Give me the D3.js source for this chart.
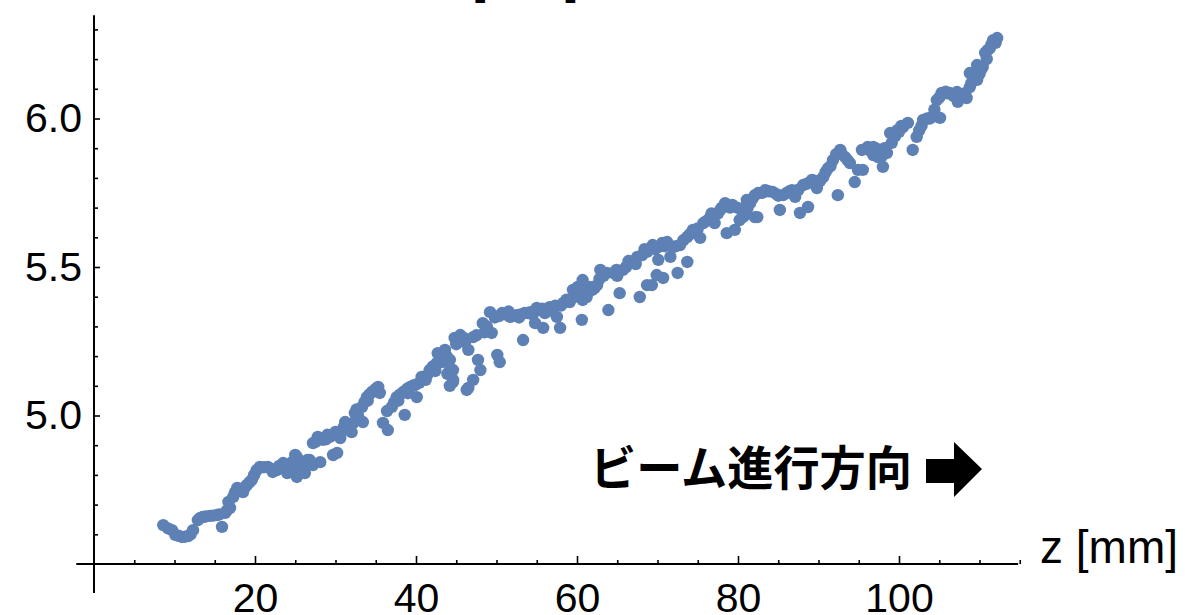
<!DOCTYPE html>
<html>
<head>
<meta charset="utf-8">
<script src="https://cdn.jsdelivr.net/npm/d3@7"></script>
<style>
  body { margin: 0; background: #fff; }
  svg { display: block; }
</style>
</head>
<body>
<div id="chart"></div>
<script>
// Beam size along z as [z (mm), size (mm)]
var beamPoints = [
    // start of the beam line, up to ~28 mm
    [8.6,4.631],[9.2,4.620],[9.7,4.614],[10.1,4.598],[10.5,4.595],[10.9,4.591],[11.3,4.592],[11.7,4.594],
    [12.0,4.600],[12.3,4.614],[12.9,4.648],[13.2,4.655],[13.5,4.658],[13.9,4.660],[14.4,4.662],[14.8,4.663],
    [15.3,4.665],[15.6,4.667],[15.9,4.625],[16.3,4.672],[16.5,4.680],[16.9,4.689],[16.7,4.709],[17.3,4.726],
    [17.5,4.740],[17.8,4.756],[18.1,4.750],[18.5,4.742],[18.8,4.760],[19.0,4.766],[19.3,4.775],[19.6,4.783],
    [19.9,4.800],[20.2,4.816],[20.6,4.827],[21.1,4.826],[21.6,4.827],[22.0,4.820],[22.2,4.810],[22.7,4.816],
    [23.0,4.830],[23.5,4.840],[24.0,4.806],[24.3,4.830],[24.6,4.843],[25.0,4.867],[25.2,4.793],[25.6,4.830],
    [26.0,4.816],[26.5,4.850],[26.8,4.840],[27.2,4.833],[27.2,4.907],[27.8,4.928],
    // 25 - 46 mm
    [25.2,4.860],[25.2,4.816],[26.2,4.806],[26.8,4.850],[27.5,4.911],[28.1,4.843],[28.4,4.918],[28.8,4.920],
    [29.0,4.935],[29.3,4.928],[29.7,4.867],[29.8,4.935],[30.0,4.945],[30.2,4.874],[30.6,4.924],[30.9,4.950],
    [31.0,4.960],[31.2,4.978],[31.6,4.965],[32.0,4.944],[32.2,4.975],[32.4,5.008],[32.6,5.020],[32.8,5.000],
    [33.3,5.029],[33.4,4.978],[33.6,5.045],[33.9,5.062],[34.0,5.050],[34.2,5.070],[34.5,5.079],[34.9,5.085],
    [35.0,5.090],[35.3,5.096],[35.5,5.076],[35.9,4.975],[36.4,5.015],[36.5,4.951],[37.0,5.029],[37.3,5.045],
    [37.6,5.062],[37.8,5.050],[38.0,5.070],[38.4,5.079],[38.6,5.002],[38.9,5.090],[39.0,5.075],[39.3,5.096],
    [39.6,5.100],[39.9,5.103],[40.1,5.062],[40.4,5.110],[40.7,5.130],[41.0,5.130],[41.2,5.120],[41.4,5.136],
    [41.7,5.153],[42.1,5.165],[42.4,5.150],[42.6,5.177],[43.0,5.200],[43.2,5.180],[43.8,5.200],[44.2,5.187],
    [44.6,5.153],[44.6,5.113],[46.3,5.086],
    // 42 - 64 mm
    [42.1,5.163],[42.7,5.210],[43.6,5.221],[43.9,5.140],[44.2,5.153],[44.2,5.100],[44.6,5.120],[44.8,5.261],
    [45.0,5.240],[45.5,5.271],[46.0,5.260],[46.1,5.247],[46.5,5.221],[46.5,5.093],[47.1,5.264],[47.1,5.120],
    [47.5,5.270],[47.7,5.187],[48.0,5.153],[48.3,5.311],[48.5,5.280],[48.8,5.300],[49.2,5.348],[49.4,5.278],
    [49.8,5.330],[50.1,5.204],[50.3,5.335],[50.4,5.180],[50.7,5.345],[51.2,5.340],[51.5,5.350],[51.7,5.332],
    [52.0,5.335],[52.5,5.338],[52.8,5.330],[53.0,5.340],[53.3,5.254],[53.5,5.345],[53.9,5.345],[54.2,5.348],
    [54.5,5.340],[54.8,5.311],[55.0,5.362],[55.4,5.355],[55.7,5.360],[55.8,5.295],[56.0,5.345],[56.3,5.350],
    [56.6,5.365],[57.0,5.360],[57.3,5.370],[57.5,5.332],[57.9,5.295],[58.0,5.370],[58.3,5.379],[58.7,5.390],
    [59.1,5.382],[59.5,5.423],[59.8,5.400],[60.1,5.433],[60.5,5.420],[60.6,5.322],[61.2,5.399],[61.5,5.420],
    [61.9,5.423],[62.2,5.430],[62.5,5.439],[62.8,5.460],[63.2,5.480],[63.9,5.355],
    // 60 - 83 mm
    [60.7,5.456],[60.7,5.389],[61.6,5.433],[62.9,5.490],[63.3,5.470],[63.7,5.480],[64.5,5.480],[64.9,5.490],
    [65.0,5.470],[65.3,5.412],[65.7,5.490],[66.1,5.500],[66.4,5.520],[66.6,5.513],[67.0,5.520],[67.3,5.510],
    [67.5,5.534],[67.8,5.399],[68.1,5.540],[68.4,5.560],[68.7,5.439],[68.7,5.551],[69.3,5.439],[69.4,5.574],
    [69.7,5.560],[69.9,5.473],[70.1,5.524],[70.4,5.570],[70.6,5.581],[70.7,5.463],[70.9,5.570],[71.2,5.584],
    [71.6,5.534],[71.9,5.567],[72.3,5.570],[72.5,5.480],[72.8,5.574],[73.2,5.590],[73.7,5.517],[73.7,5.601],
    [74.0,5.610],[74.4,5.625],[74.9,5.620],[75.0,5.630],[75.3,5.598],[75.7,5.648],[76.1,5.655],[76.5,5.665],
    [76.7,5.680],[76.9,5.670],[77.1,5.648],[77.5,5.680],[77.8,5.692],[78.0,5.700],[78.4,5.715],[78.6,5.614],
    [79.0,5.700],[79.3,5.709],[79.6,5.625],[79.9,5.700],[80.2,5.658],[80.6,5.680],[80.9,5.675],[81.0,5.705],
    [81.2,5.700],[81.5,5.715],[81.8,5.730],[82.1,5.742],[82.4,5.668],
    // 80 - 100 mm
    [80.6,5.668],[81.1,5.726],[82.1,5.668],[82.5,5.749],[83.0,5.750],[83.4,5.759],[83.8,5.755],[84.3,5.753],
    [84.8,5.745],[85.0,5.740],[85.2,5.692],[85.6,5.742],[86.1,5.750],[86.4,5.755],[86.7,5.759],[87.1,5.736],
    [87.5,5.760],[87.7,5.682],[88.1,5.776],[88.5,5.780],[88.7,5.702],[88.9,5.785],[89.2,5.793],[89.6,5.790],
    [89.8,5.766],[90.2,5.790],[90.6,5.803],[90.9,5.820],[91.2,5.833],[91.5,5.840],[91.8,5.860],[92.2,5.880],
    [92.4,5.742],[92.7,5.894],[92.9,5.880],[93.3,5.870],[93.6,5.860],[93.9,5.850],[94.5,5.786],[94.9,5.827],
    [95.4,5.894],[95.5,5.827],[96.1,5.904],[96.5,5.890],[96.8,5.877],[97.4,5.870],[97.8,5.870],[98.0,5.837],
    [98.5,5.884],[99.1,5.918],[99.5,5.940],[99.8,5.961],
    // end, up to ~112 mm
    [96.8,5.904],[97.1,5.900],[97.6,5.884],[98.2,5.900],[98.9,5.951],[99.3,5.950],[100.0,5.955],[100.3,5.975],
    [100.5,5.971],[101.1,5.985],[101.7,5.894],[102.2,5.938],[102.5,5.960],[102.8,5.975],[103.0,5.995],[103.5,6.000],
    [103.8,6.000],[104.1,6.005],[104.4,6.030],[104.7,6.062],[105.0,6.070],[105.1,6.002],[105.3,6.086],[105.8,6.090],
    [106.0,6.085],[106.3,6.086],[106.8,6.075],[107.2,6.089],[107.3,6.056],[107.5,6.075],[107.8,6.080],[108.2,6.085],
    [108.4,6.069],[108.8,6.106],[108.8,6.153],[109.0,6.120],[109.2,6.140],[109.7,6.130],[109.7,6.180],[110.0,6.150],
    [110.2,6.165],[110.4,6.173],[110.7,6.221],[110.9,6.200],[111.0,6.230],[111.3,6.237],[111.5,6.250],[111.7,6.264],
    [112.0,6.255],[112.2,6.271]
];

// Tick values
var xMajorTicks = [20, 40, 60, 80, 100];
var xMinorTicks = [5, 10, 15, 25, 30, 35, 45, 50, 55, 65, 70, 75, 85, 90, 95, 105, 110, 115];
var yMajorTicks = [5.0, 5.5, 6.0];
var yMinorTicks = [4.6, 4.7, 4.8, 4.9, 5.1, 5.2, 5.3, 5.4, 5.6, 5.7, 5.8, 5.9, 6.1, 6.2, 6.3];

// Texts
var xLabel = "z [mm]";
var titleText = "[mm]";
var noteText = "ビーム進行方向";

function init() {
    var w = 1185;
    var h = 615;
    var font = "'Liberation Sans', Arial, Helvetica, sans-serif";

    // origin of the axes sits at (0, 4.5)
    var xScale = d3.scaleLinear()
        .domain([0, 115])
        .range([94, 94 + 115 * 8.05]);

    var yScale = d3.scaleLinear()
        .domain([4.5, 6.35])
        .range([564, 564 - 1.85 * 297]);

    var svg = d3.select("#chart")
        .append("svg")
        .attr("width", w)
        .attr("height", h);

    // title, mostly outside the picture
    svg.append("text")
        .attr("x", 472)
        .attr("y", -7)
        .style("font-family", font)
        .style("font-size", "48px")
        .text(titleText);

    // data points
    svg.append("g")
        .selectAll("circle")
        .data(beamPoints)
        .enter()
        .append("circle")
        .attr("cx", function(d) { return xScale(d[0]); })
        .attr("cy", function(d) { return yScale(d[1]); })
        .attr("r", 6.2)
        .style("fill", "#5e81b5");

    // x axis: line, minor ticks, then major ticks with labels
    svg.append("line")
        .attr("x1", xScale(-2.2))
        .attr("x2", xScale(114.8))
        .attr("y1", yScale(4.5))
        .attr("y2", yScale(4.5))
        .style("stroke", "#000")
        .style("stroke-width", 2);

    svg.append("g")
        .attr("transform", "translate(0," + yScale(4.5) + ")")
        .call(d3.axisBottom(xScale).tickValues(xMinorTicks).tickSizeInner(-4).tickSizeOuter(0).tickFormat(""))
        .call(function(g) { g.select(".domain").remove(); })
        .selectAll("line").style("stroke-width", 1.6);

    var xAxis = svg.append("g")
        .attr("transform", "translate(0," + yScale(4.5) + ")")
        .call(d3.axisBottom(xScale).tickValues(xMajorTicks).tickSizeInner(-8).tickSizeOuter(0).tickPadding(19));
    xAxis.select(".domain").remove();
    xAxis.selectAll("line").style("stroke-width", 1.6);
    xAxis.selectAll("text")
        .style("font-family", font)
        .style("font-size", "41px")
        .style("fill", "#000");

    // y axis
    svg.append("line")
        .attr("x1", xScale(0))
        .attr("x2", xScale(0))
        .attr("y1", yScale(4.402))
        .attr("y2", yScale(6.348))
        .style("stroke", "#000")
        .style("stroke-width", 2);

    svg.append("g")
        .attr("transform", "translate(" + xScale(0) + ",0)")
        .call(d3.axisLeft(yScale).tickValues(yMinorTicks).tickSizeInner(-4).tickSizeOuter(0).tickFormat(""))
        .call(function(g) { g.select(".domain").remove(); })
        .selectAll("line").style("stroke-width", 1.6);

    var yAxis = svg.append("g")
        .attr("transform", "translate(" + xScale(0) + ",0)")
        .call(d3.axisLeft(yScale).tickValues(yMajorTicks).tickSizeInner(-6).tickSizeOuter(0)
            .tickPadding(12).tickFormat(d3.format(".1f")));
    yAxis.select(".domain").remove();
    yAxis.selectAll("line").style("stroke-width", 1.6);
    yAxis.selectAll("text")
        .style("font-family", font)
        .style("font-size", "41px")
        .style("fill", "#000");

    // axis label at the right end of the x axis
    svg.append("text")
        .attr("x", 1040)
        .attr("y", 563)
        .style("font-family", font)
        .style("font-size", "46px")
        .text(xLabel);

    // beam direction note with a block arrow
    svg.append("text")
        .attr("x", 590)
        .attr("y", 485)
        .attr("textLength", 322)
        .attr("lengthAdjust", "spacingAndGlyphs")
        .style("font-family", "'Noto Sans CJK JP', sans-serif")
        .style("font-weight", "bold")
        .style("font-size", "47px")
        .text(noteText);

    svg.append("path")
        .attr("d", "M926,459 L954,459 L954,442 L982,469 L954,497 L954,483 L926,483 Z")
        .style("fill", "#000");
}

window.onload = init;
</script>
</body>
</html>
